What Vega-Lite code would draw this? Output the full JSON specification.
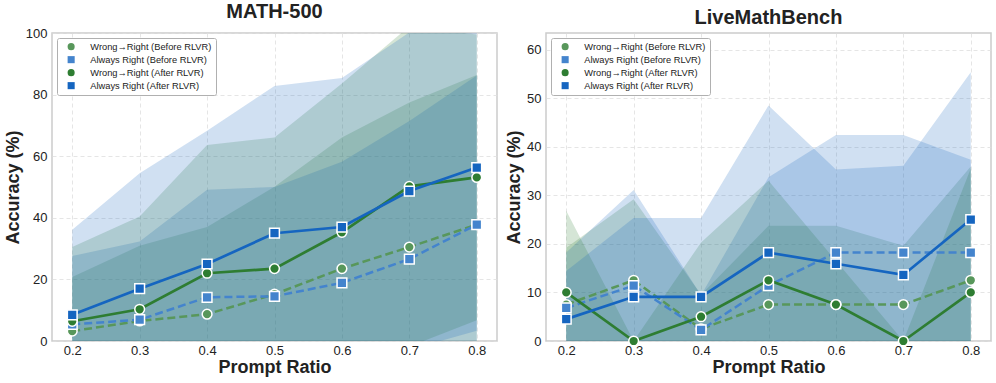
{
  "$schema": "https://vega.github.io/schema/vega-lite/v6.json",
  "background": "white",
  "padding": {"left": 3, "top": 1, "right": 5, "bottom": 0},
  "config": {
    "font": "Liberation Sans",
    "view": {"stroke": "#cccccc", "strokeWidth": 1.5},
    "axis": {"domain": false, "ticks": false, "grid": true, "gridColor": "#dedede", "gridDash": [4, 3], "gridWidth": 0.8, "labelFontSize": 13, "labelColor": "#222222", "titleFontSize": 18, "titleFontWeight": "bold", "titleColor": "#222222"},
    "axisX": {"labelPadding": 3, "titlePadding": 1},
    "axisY": {"labelPadding": 5, "titlePadding": 3},
    "title": {"fontSize": 20, "fontWeight": "bold", "color": "#222222", "anchor": "middle", "offset": 5},
    "concat": {"spacing": 6},
    "legend": {"title": null, "orient": "top-left", "offset": 5, "fillColor": "white", "strokeColor": "#b0b0b0", "padding": 4, "cornerRadius": 2, "labelFontSize": 9.3, "labelColor": "#222222", "labelLimit": 300, "symbolSize": 50, "rowPadding": 3, "labelOffset": 14.5, "symbolOffset": 5.5, "symbolStrokeWidth": 0}
  },
  "datasets": {
    "math": [
      {"s": "Wrong→Right (Before RLVR)", "x": 0.2, "acc": 3.2, "lo": -14.4, "hi": 20.8},
      {"s": "Wrong→Right (Before RLVR)", "x": 0.3, "acc": 6.5, "lo": -17.9, "hi": 30.9},
      {"s": "Wrong→Right (Before RLVR)", "x": 0.4, "acc": 8.7, "lo": -19.6, "hi": 37.0},
      {"s": "Wrong→Right (Before RLVR)", "x": 0.5, "acc": 15.2, "lo": -19.7, "hi": 50.1},
      {"s": "Wrong→Right (Before RLVR)", "x": 0.6, "acc": 23.5, "lo": -19.1, "hi": 66.1},
      {"s": "Wrong→Right (Before RLVR)", "x": 0.7, "acc": 30.5, "lo": -16.4, "hi": 77.4},
      {"s": "Wrong→Right (Before RLVR)", "x": 0.8, "acc": 37.8, "lo": -10.8, "hi": 86.4},
      {"s": "Always Right (Before RLVR)", "x": 0.2, "acc": 5.4, "lo": -16.8, "hi": 27.6},
      {"s": "Always Right (Before RLVR)", "x": 0.3, "acc": 6.9, "lo": -18.5, "hi": 32.3},
      {"s": "Always Right (Before RLVR)", "x": 0.4, "acc": 14.2, "lo": -20.7, "hi": 49.1},
      {"s": "Always Right (Before RLVR)", "x": 0.5, "acc": 14.5, "lo": -21.0, "hi": 50.0},
      {"s": "Always Right (Before RLVR)", "x": 0.6, "acc": 18.9, "lo": -20.4, "hi": 58.2},
      {"s": "Always Right (Before RLVR)", "x": 0.7, "acc": 26.6, "lo": -18.2, "hi": 71.4},
      {"s": "Always Right (Before RLVR)", "x": 0.8, "acc": 37.8, "lo": -10.6, "hi": 86.2},
      {"s": "Wrong→Right (After RLVR)", "x": 0.2, "acc": 6.4, "lo": -17.7, "hi": 30.5},
      {"s": "Wrong→Right (After RLVR)", "x": 0.3, "acc": 10.3, "lo": -19.8, "hi": 40.4},
      {"s": "Wrong→Right (After RLVR)", "x": 0.4, "acc": 22.0, "lo": -19.6, "hi": 63.6},
      {"s": "Wrong→Right (After RLVR)", "x": 0.5, "acc": 23.5, "lo": -19.1, "hi": 66.1},
      {"s": "Wrong→Right (After RLVR)", "x": 0.6, "acc": 35.3, "lo": -13.0, "hi": 83.6},
      {"s": "Wrong→Right (After RLVR)", "x": 0.7, "acc": 50.2, "lo": -1.8, "hi": 102.2},
      {"s": "Wrong→Right (After RLVR)", "x": 0.8, "acc": 53.1, "lo": 6.7, "hi": 99.5},
      {"s": "Always Right (After RLVR)", "x": 0.2, "acc": 8.5, "lo": -19.1, "hi": 36.1},
      {"s": "Always Right (After RLVR)", "x": 0.3, "acc": 17.0, "lo": -20.5, "hi": 54.5},
      {"s": "Always Right (After RLVR)", "x": 0.4, "acc": 25.0, "lo": -18.3, "hi": 68.3},
      {"s": "Always Right (After RLVR)", "x": 0.5, "acc": 35.0, "lo": -12.8, "hi": 82.8},
      {"s": "Always Right (After RLVR)", "x": 0.6, "acc": 37.0, "lo": -11.4, "hi": 85.4},
      {"s": "Always Right (After RLVR)", "x": 0.7, "acc": 48.7, "lo": -2.8, "hi": 100.2},
      {"s": "Always Right (After RLVR)", "x": 0.8, "acc": 56.3, "lo": 3.3, "hi": 109.3}
    ],
    "live": [
      {"s": "Wrong→Right (Before RLVR)", "x": 0.2, "acc": 7.5, "lo": -4.2, "hi": 19.2},
      {"s": "Wrong→Right (Before RLVR)", "x": 0.3, "acc": 12.5, "lo": -4.2, "hi": 29.2},
      {"s": "Wrong→Right (Before RLVR)", "x": 0.4, "acc": 2.5, "lo": -4.5, "hi": 9.5},
      {"s": "Wrong→Right (Before RLVR)", "x": 0.5, "acc": 7.5, "lo": -8.7, "hi": 23.7},
      {"s": "Wrong→Right (Before RLVR)", "x": 0.6, "acc": 7.5, "lo": -8.7, "hi": 23.7},
      {"s": "Wrong→Right (Before RLVR)", "x": 0.7, "acc": 7.5, "lo": -4.6, "hi": 19.6},
      {"s": "Wrong→Right (Before RLVR)", "x": 0.8, "acc": 12.5, "lo": -10.7, "hi": 35.9},
      {"s": "Always Right (Before RLVR)", "x": 0.2, "acc": 6.8, "lo": -4.6, "hi": 18.2},
      {"s": "Always Right (Before RLVR)", "x": 0.3, "acc": 11.4, "lo": -8.3, "hi": 31.1},
      {"s": "Always Right (Before RLVR)", "x": 0.4, "acc": 2.3, "lo": -4.8, "hi": 9.4},
      {"s": "Always Right (Before RLVR)", "x": 0.5, "acc": 11.4, "lo": -10.9, "hi": 33.7},
      {"s": "Always Right (Before RLVR)", "x": 0.6, "acc": 18.2, "lo": -6.0, "hi": 42.4},
      {"s": "Always Right (Before RLVR)", "x": 0.7, "acc": 18.2, "lo": -6.0, "hi": 42.4},
      {"s": "Always Right (Before RLVR)", "x": 0.8, "acc": 18.2, "lo": -0.9, "hi": 37.3},
      {"s": "Wrong→Right (After RLVR)", "x": 0.2, "acc": 10.0, "lo": -6.8, "hi": 26.8},
      {"s": "Wrong→Right (After RLVR)", "x": 0.3, "acc": 0.0, "lo": 0.0, "hi": 0.0},
      {"s": "Wrong→Right (After RLVR)", "x": 0.4, "acc": 5.0, "lo": -10.3, "hi": 20.3},
      {"s": "Wrong→Right (After RLVR)", "x": 0.5, "acc": 12.5, "lo": -8.0, "hi": 33.0},
      {"s": "Wrong→Right (After RLVR)", "x": 0.6, "acc": 7.5, "lo": -1.5, "hi": 16.5},
      {"s": "Wrong→Right (After RLVR)", "x": 0.7, "acc": 0.0, "lo": 0.0, "hi": 0.0},
      {"s": "Wrong→Right (After RLVR)", "x": 0.8, "acc": 10.0, "lo": -15.5, "hi": 35.5},
      {"s": "Always Right (After RLVR)", "x": 0.2, "acc": 4.5, "lo": -5.4, "hi": 14.4},
      {"s": "Always Right (After RLVR)", "x": 0.3, "acc": 9.1, "lo": -7.1, "hi": 25.3},
      {"s": "Always Right (After RLVR)", "x": 0.4, "acc": 9.1, "lo": -7.1, "hi": 25.3},
      {"s": "Always Right (After RLVR)", "x": 0.5, "acc": 18.2, "lo": -12.1, "hi": 48.5},
      {"s": "Always Right (After RLVR)", "x": 0.6, "acc": 15.9, "lo": -3.5, "hi": 35.3},
      {"s": "Always Right (After RLVR)", "x": 0.7, "acc": 13.6, "lo": -8.9, "hi": 36.1},
      {"s": "Always Right (After RLVR)", "x": 0.8, "acc": 25.0, "lo": -5.3, "hi": 55.3}
    ]
  },
  "resolve": {"scale": {"x": "independent", "y": "independent", "color": "independent", "shape": "independent"}, "legend": {"color": "independent", "shape": "independent"}},
  "hconcat": [
    {
      "title": "MATH-500",
      "width": 445,
      "height": 308,
      "data": {"name": "math"},
      "encoding": {
        "x": {"field": "x", "type": "quantitative", "scale": {"domain": [0.17, 0.83], "nice": false, "zero": false}, "axis": {"values": [0.2, 0.3, 0.4, 0.5, 0.6, 0.7, 0.8], "format": ".1f", "title": "Prompt Ratio"}},
        "y": {"field": "acc", "type": "quantitative", "scale": {"domain": [0, 100], "nice": false}, "axis": {"values": [0, 20, 40, 60, 80, 100]}, "title": "Accuracy (%)"}
      },
      "layer": [
        {"transform": [{"filter": {"field": "s", "equal": "Wrong→Right (Before RLVR)"}}], "mark": {"type": "area", "clip": true, "color": "#2e7d32", "fillOpacity": 0.2}, "encoding": {"y": {"field": "lo", "type": "quantitative", "title": "Accuracy (%)"}, "y2": {"field": "hi"}}},
        {"transform": [{"filter": {"field": "s", "equal": "Always Right (Before RLVR)"}}], "mark": {"type": "area", "clip": true, "color": "#1565c0", "fillOpacity": 0.2}, "encoding": {"y": {"field": "lo", "type": "quantitative", "title": "Accuracy (%)"}, "y2": {"field": "hi"}}},
        {"transform": [{"filter": {"field": "s", "equal": "Wrong→Right (After RLVR)"}}], "mark": {"type": "area", "clip": true, "color": "#2e7d32", "fillOpacity": 0.2}, "encoding": {"y": {"field": "lo", "type": "quantitative", "title": "Accuracy (%)"}, "y2": {"field": "hi"}}},
        {"transform": [{"filter": {"field": "s", "equal": "Always Right (After RLVR)"}}], "mark": {"type": "area", "clip": true, "color": "#1565c0", "fillOpacity": 0.2}, "encoding": {"y": {"field": "lo", "type": "quantitative", "title": "Accuracy (%)"}, "y2": {"field": "hi"}}},
        {"transform": [{"filter": {"field": "s", "equal": "Wrong→Right (Before RLVR)"}}], "mark": {"type": "line", "color": "#58975b", "strokeWidth": 2.5, "strokeDash": [8, 4]}, "encoding": {}},
        {"transform": [{"filter": {"field": "s", "equal": "Always Right (Before RLVR)"}}], "mark": {"type": "line", "color": "#4484cd", "strokeWidth": 2.5, "strokeDash": [8, 4]}, "encoding": {}},
        {"transform": [{"filter": {"field": "s", "equal": "Wrong→Right (After RLVR)"}}], "mark": {"type": "line", "color": "#2e7d32", "strokeWidth": 2.7}, "encoding": {}},
        {"transform": [{"filter": {"field": "s", "equal": "Always Right (After RLVR)"}}], "mark": {"type": "line", "color": "#1565c0", "strokeWidth": 2.7}, "encoding": {}},
        {
          "mark": {"type": "point", "filled": true, "size": 95, "stroke": "white", "strokeWidth": 1.5, "opacity": 1},
          "encoding": {
            "color": {"field": "s", "type": "nominal", "scale": {"domain": ["Wrong→Right (Before RLVR)", "Always Right (Before RLVR)", "Wrong→Right (After RLVR)", "Always Right (After RLVR)"], "range": ["#58975b", "#4484cd", "#2e7d32", "#1565c0"]}, "legend": {"orient": "top-left"}},
            "shape": {"field": "s", "type": "nominal", "scale": {"domain": ["Wrong→Right (Before RLVR)", "Always Right (Before RLVR)", "Wrong→Right (After RLVR)", "Always Right (After RLVR)"], "range": ["circle", "square", "circle", "square"]}, "legend": {"orient": "top-left"}}
          }
        }
      ]
    },
    {
      "title": "LiveMathBench",
      "width": 445,
      "height": 308,
      "data": {"name": "live"},
      "encoding": {
        "x": {"field": "x", "type": "quantitative", "scale": {"domain": [0.17, 0.83], "nice": false, "zero": false}, "axis": {"values": [0.2, 0.3, 0.4, 0.5, 0.6, 0.7, 0.8], "format": ".1f", "title": "Prompt Ratio"}},
        "y": {"field": "acc", "type": "quantitative", "scale": {"domain": [0, 63.4], "nice": false}, "axis": {"values": [0, 10, 20, 30, 40, 50, 60]}, "title": "Accuracy (%)"}
      },
      "layer": [
        {"transform": [{"filter": {"field": "s", "equal": "Wrong→Right (Before RLVR)"}}], "mark": {"type": "area", "clip": true, "color": "#2e7d32", "fillOpacity": 0.2}, "encoding": {"y": {"field": "lo", "type": "quantitative", "title": "Accuracy (%)"}, "y2": {"field": "hi"}}},
        {"transform": [{"filter": {"field": "s", "equal": "Always Right (Before RLVR)"}}], "mark": {"type": "area", "clip": true, "color": "#1565c0", "fillOpacity": 0.2}, "encoding": {"y": {"field": "lo", "type": "quantitative", "title": "Accuracy (%)"}, "y2": {"field": "hi"}}},
        {"transform": [{"filter": {"field": "s", "equal": "Wrong→Right (After RLVR)"}}], "mark": {"type": "area", "clip": true, "color": "#2e7d32", "fillOpacity": 0.2}, "encoding": {"y": {"field": "lo", "type": "quantitative", "title": "Accuracy (%)"}, "y2": {"field": "hi"}}},
        {"transform": [{"filter": {"field": "s", "equal": "Always Right (After RLVR)"}}], "mark": {"type": "area", "clip": true, "color": "#1565c0", "fillOpacity": 0.2}, "encoding": {"y": {"field": "lo", "type": "quantitative", "title": "Accuracy (%)"}, "y2": {"field": "hi"}}},
        {"transform": [{"filter": {"field": "s", "equal": "Wrong→Right (Before RLVR)"}}], "mark": {"type": "line", "color": "#58975b", "strokeWidth": 2.5, "strokeDash": [8, 4]}, "encoding": {}},
        {"transform": [{"filter": {"field": "s", "equal": "Always Right (Before RLVR)"}}], "mark": {"type": "line", "color": "#4484cd", "strokeWidth": 2.5, "strokeDash": [8, 4]}, "encoding": {}},
        {"transform": [{"filter": {"field": "s", "equal": "Wrong→Right (After RLVR)"}}], "mark": {"type": "line", "color": "#2e7d32", "strokeWidth": 2.7}, "encoding": {}},
        {"transform": [{"filter": {"field": "s", "equal": "Always Right (After RLVR)"}}], "mark": {"type": "line", "color": "#1565c0", "strokeWidth": 2.7}, "encoding": {}},
        {
          "mark": {"type": "point", "filled": true, "size": 95, "stroke": "white", "strokeWidth": 1.5, "opacity": 1},
          "encoding": {
            "color": {"field": "s", "type": "nominal", "scale": {"domain": ["Wrong→Right (Before RLVR)", "Always Right (Before RLVR)", "Wrong→Right (After RLVR)", "Always Right (After RLVR)"], "range": ["#58975b", "#4484cd", "#2e7d32", "#1565c0"]}, "legend": {"orient": "top-left"}},
            "shape": {"field": "s", "type": "nominal", "scale": {"domain": ["Wrong→Right (Before RLVR)", "Always Right (Before RLVR)", "Wrong→Right (After RLVR)", "Always Right (After RLVR)"], "range": ["circle", "square", "circle", "square"]}, "legend": {"orient": "top-left"}}
          }
        }
      ]
    }
  ]
}
